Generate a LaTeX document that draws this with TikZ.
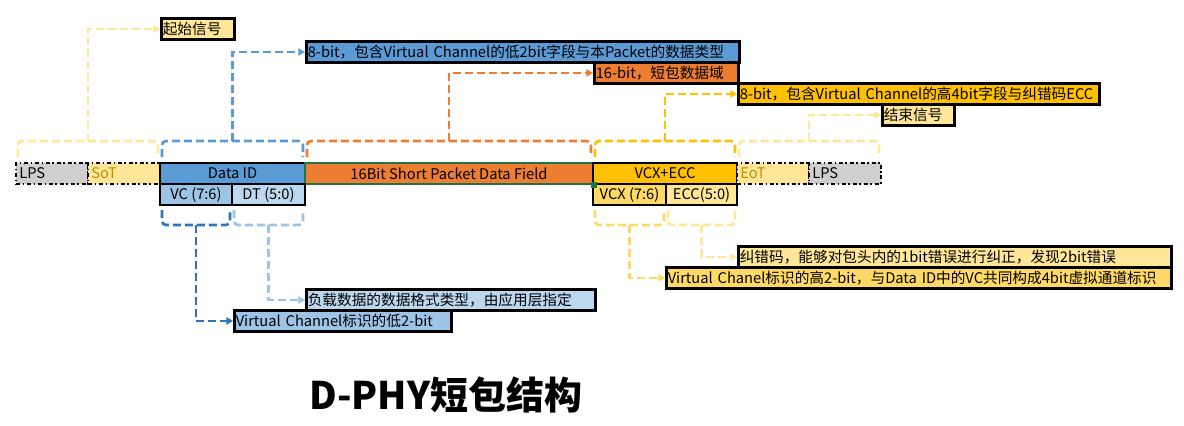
\documentclass[tikz,border=0pt]{standalone}
\usepackage{fontspec}
\setmainfont{Noto Sans CJK SC}
\usetikzlibrary{arrows.meta,backgrounds}
\definecolor{lpsgray}{RGB}{208,206,206}
\definecolor{paleyel}{RGB}{255,230,153}
\definecolor{sotbrown}{RGB}{191,143,0}
\definecolor{idblue}{RGB}{91,155,213}
\definecolor{vcblue}{RGB}{157,195,230}
\definecolor{dtblue}{RGB}{189,215,238}
\definecolor{darkblue}{RGB}{46,117,182}
\definecolor{fldorange}{RGB}{237,125,49}
\definecolor{selgreen}{RGB}{33,115,70}
\definecolor{eccgold}{RGB}{255,192,0}
\definecolor{vcxyel}{RGB}{255,217,102}

\begin{document}
\begin{tikzpicture}[x=0.75pt,y=0.75pt,yscale=-1,xscale=1,
  every node/.style={font=\fontsize{11}{12}\selectfont},
  cell/.style={draw=black,line width=2.2pt,minimum width=#1,minimum height=15.75pt,inner sep=0pt},
  cellL/.style={draw=black,line width=1.2pt,dash dot,text width=#1,align=left,minimum height=15.75pt,inner xsep=2.5pt,inner ysep=0pt},
  lbl/.style={draw=black,line width=2.2pt,anchor=north west,text width=#1,align=left,minimum height=15.75pt,inner xsep=1pt,inner ysep=0pt},
  brace/.style={line width=2pt,dash pattern=on 6pt off 3pt,rounded corners=3pt},
  link/.style={line width=2pt,dash pattern=on 6pt off 3pt,-{Triangle[length=5pt,width=5.5pt]}}
]
\useasboundingbox (0,0) rectangle (1184,425);

% Packet Cells
\node[cellL=49pt,fill=lpsgray] (lpsa) at (52,173.5) {LPS};
\node[cellL=49pt,fill=paleyel,text=sotbrown] (sot) at (124,173.5) {SoT};
\node[cell=108.75pt,fill=idblue] (dataid) at (232.5,173.5) {Data ID};
\node[cell=216pt,fill=fldorange,draw=selgreen,line width=1.5pt] (field) at (449,173.5) {16Bit Short Packet Data Field};
\node[cell=108pt,fill=eccgold] (vcxecc) at (665,173.5) {VCX+ECC};
\node[cellL=49pt,fill=paleyel,text=sotbrown] (eot) at (773,173.5) {EoT};
\node[cellL=49pt,fill=lpsgray] (lpsb) at (845,173.5) {LPS};
\node[cell=54pt,fill=vcblue] (vc) at (196,194.5) {VC (7:6)};
\node[cell=54.75pt,fill=dtblue] (dt) at (268.5,194.5) {DT (5:0)};
\node[cell=54.75pt,fill=vcxyel] (vcx) at (629.5,194.5) {VCX (7:6)};
\node[cell=53.25pt,fill=paleyel] (ecc) at (701.5,194.5) {ECC(5:0)};
\node[fill=selgreen,minimum size=4pt,inner sep=0pt] (handle) at (field.south east) {};

% Text Node
\node[lbl=52.75pt,fill=paleyel] (start) at (160,17) {起始信号};
\node[lbl=322.75pt,fill=idblue] (did) at (305,40) {8-bit，包含Virtual Channel的低2bit字段与本Packet的数据类型};
\node[lbl=106pt,fill=fldorange] (fld) at (593,61) {16-bit，短包数据域};
\node[lbl=268.75pt,fill=eccgold] (vce) at (737,82) {8-bit，包含Virtual Channel的高4bit字段与纠错码ECC};
\node[lbl=52pt,fill=paleyel] (endl) at (881,103) {结束信号};
\node[lbl=322.75pt,fill=paleyel] (eccl) at (737,245) {纠错码，能够对包头内的1bit错误进行纠正，发现2bit错误};
\node[lbl=376.75pt,fill=vcxyel] (vcxl) at (665,266) {Virtual Chanel标识的高2-bit，与Data ID中的VC共同构成4bit虚拟通道标识};
\node[lbl=214.75pt,fill=dtblue] (dtl) at (305,288) {负载数据的数据格式类型，由应用层指定};
\node[lbl=160.75pt,fill=vcblue] (vcl) at (233,309) {Virtual Channel标识的低2-bit};

%Brace Lines
\draw[brace,paleyel] (18,157) -- (18,141) -- (158,141) -- (158,157);
\draw[brace,idblue] (162,157) -- (162,141) -- (303,141) -- (303,157);
\draw[brace,fldorange] (307,157) -- (307,141) -- (591,141) -- (591,157);
\draw[brace,eccgold] (595,157) -- (595,141) -- (735,141) -- (735,157);
\draw[brace,paleyel] (739,157) -- (739,141) -- (879,141) -- (879,157);
\draw[brace,darkblue] (162,210) -- (162,225) -- (230,225) -- (230,210);
\draw[brace,vcblue] (234,210) -- (234,225) -- (303,225) -- (303,210);
\draw[brace,vcxyel] (595,210) -- (595,225) -- (664,225) -- (664,210);
\draw[brace,paleyel] (668,210) -- (668,225) -- (735,225) -- (735,210);
\coordinate (bsot) at (88,141);
\coordinate (bid) at (232.5,141);
\coordinate (bfld) at (449,141);
\coordinate (bvce) at (665,141);
\coordinate (beot) at (809,141);
\coordinate (bvc) at (196,225);
\coordinate (bdt) at (268.5,225);
\coordinate (bvcx) at (629.5,225);
\coordinate (becc) at (701.5,225);

%Connector Lines
\begin{scope}[on background layer]
\draw[link,paleyel] (bsot) |- (start.west);
\draw[link,idblue] (bid) |- (did.west);
\draw[link,fldorange] (bfld) |- (fld.west);
\draw[link,eccgold] (bvce) |- (vce.west);
\draw[link,paleyel] (beot) |- (endl.west);
\draw[link,darkblue] (bvc) |- (vcl.west);
\draw[link,vcblue] (bdt) |- (dtl.west);
\draw[link,vcxyel] (bvcx) |- (vcxl.west);
\draw[link,paleyel] (becc) |- (eccl.west);
\end{scope}

% Title
\node[font=\bfseries\fontsize{28.5}{30}\selectfont] (title) at (446,395) {D-PHY短包结构};

\end{tikzpicture}
\end{document}
